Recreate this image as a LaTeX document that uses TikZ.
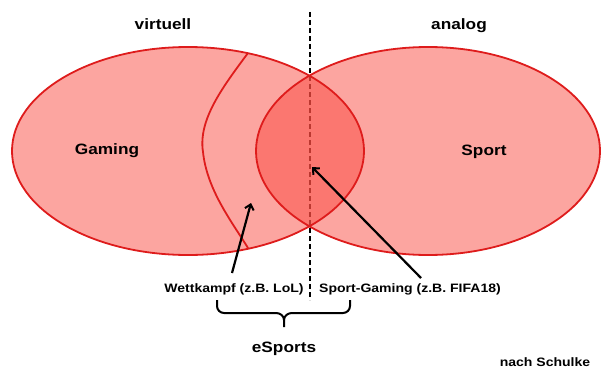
\documentclass[tikz,border=0pt]{standalone}
\usepackage{fontspec}
\setmainfont{Liberation Sans}
\usetikzlibrary{arrows.meta}
\definecolor{ellfill}{RGB}{250,75,65}
\definecolor{ellline}{RGB}{222,28,28}
\tikzset{
  lbl/.style={font=\bfseries, inner sep=0pt, anchor=base, xscale=1.15},
  big/.style={lbl, font=\fontsize{15}{18}\selectfont\bfseries},
  small/.style={lbl, font=\fontsize{12.2}{15}\selectfont\bfseries},
  ell/.style={fill=ellfill, fill opacity=0.5, draw=none},
  border/.style={draw=ellline, line width=1.8pt},
  arr/.style={line width=2.2pt, -{Straight Barb[length=5pt,width=9pt,line width=2pt]}},
  divider/.style={line width=2.2pt, dash pattern=on 5pt off 3pt},
}
\begin{document}
\begin{tikzpicture}[x=1pt,y=-1pt]
\useasboundingbox (0,0) rectangle (601,369);
% divider line
\coordinate (dtop) at (310,12);
\coordinate (dbot) at (310,300);
\draw[divider] (dtop) -- (dbot);
% ellipses
\path[ell] (188,151) ellipse [x radius=176, y radius=104];
\path[ell] (428,151) ellipse [x radius=172, y radius=104];
\draw[border] (188,151) ellipse [x radius=176, y radius=104];
\draw[border] (428,151) ellipse [x radius=172, y radius=104];
% inner curve
\coordinate (ct) at (248,53);
\coordinate (cm) at (203,152);
\coordinate (cb) at (248,248);
\draw[border] (ct) .. controls (222,88) and (198,120) .. (cm) .. controls (207,190) and (232,222) .. (cb);
% labels
\node[big] (virt) at (163,30) {virtuell};
\node[big] (anal) at (459,30) {analog};
\node[big] (gam) at (107,154) {Gaming};
\node[big] (spo) at (484,155) {Sport};
\node[small] (wk) at (234,292) {Wettkampf (z.B. LoL)};
\node[small] (sg) at (410,292) {Sport-Gaming (z.B. FIFA18)};
\node[big] (es) at (284,352) {eSports};
\node[small] (ns) at (545,366) {nach Schulke};
% arrows
\coordinate (a1s) at (232,273);
\coordinate (a1e) at (251,203);
\coordinate (a2s) at (421,278);
\coordinate (a2e) at (312,167);
\draw[arr] (a1s) -- (a1e);
\draw[arr] (a2s) -- (a2e);
% brace
\coordinate (bl) at (217,300);
\coordinate (br) at (350,300);
\coordinate (bt) at (284,327);
\draw[line width=2pt, line join=round]
  (bl) -- (217,306) to[out=-90,in=180] (224,313) -- (276,313)
  to[out=0,in=90] (284,320) -- (bt);
\draw[line width=2pt, line join=round]
  (br) -- (350,306) to[out=-90,in=0] (343,313) -- (292,313)
  to[out=180,in=90] (284,320);
\end{tikzpicture}
\end{document}
